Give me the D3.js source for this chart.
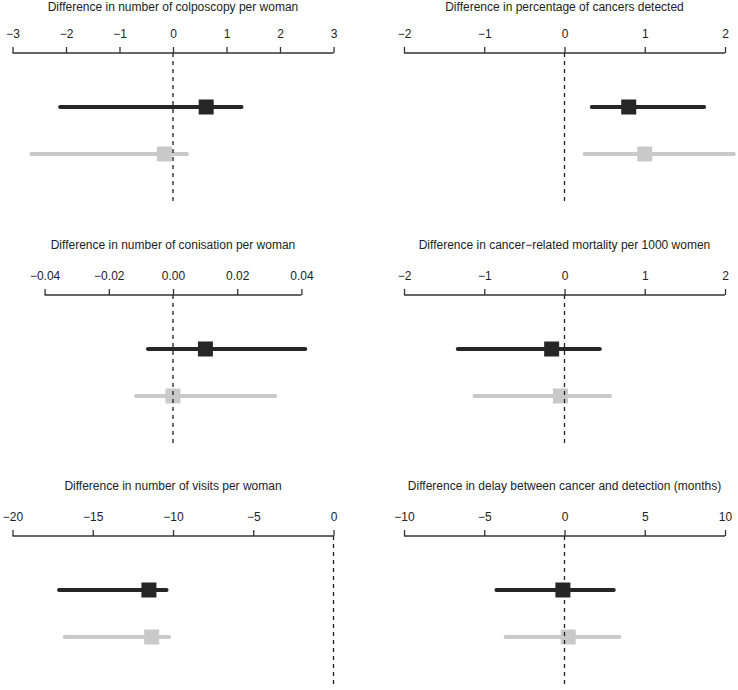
<!DOCTYPE html>
<html>
<head>
<meta charset="utf-8">
<script src="https://cdn.jsdelivr.net/npm/d3@7"></script>
<style>
  body { margin: 0; background: #fff; }
  svg { display: block; font-family: "Liberation Sans", Arial, sans-serif; }
</style>
</head>
<body>
<div id="chart"></div>
<script>
// panel titles, in reading order
const titles = [
  "Difference in number of colposcopy per woman",
  "Difference in percentage of cancers detected",
  "Difference in number of conisation per woman",
  "Difference in cancer\u2212related mortality per 1000 women",
  "Difference in number of visits per woman",
  "Difference in delay between cancer and detection (months)"
];

// x domains and tick values of each panel
const domains = [[-3, 3], [-2, 2], [-0.05, 0.05], [-2, 2], [-20, 0], [-10, 10]];
const tickVals = [
  [-3, -2, -1, 0, 1, 2, 3],
  [-2, -1, 0, 1, 2],
  [-0.04, -0.02, 0, 0.02, 0.04],
  [-2, -1, 0, 1, 2],
  [-20, -15, -10, -5, 0],
  [-10, -5, 0, 5, 10]
];
const tickFormats = ["d", "d", ".2f", "d", "d", "d"];

// black series: estimate, lower, upper
const blackEst = [0.62, 0.80, 0.0101, -0.16, -11.5, -0.1];
const blackLo  = [-2.11, 0.34, -0.0078, -1.33, -17.1, -4.24];
const blackHi  = [1.28, 1.74, 0.0412, 0.44, -10.4, 3.07];

// grey series: estimate, lower, upper
const greyEst = [-0.16, 1.00, 0.0, -0.05, -11.33, 0.23];
const greyLo  = [-2.65, 0.25, -0.0115, -1.12, -16.75, -3.67];
const greyHi  = [0.26, 2.11, 0.0319, 0.57, -10.25, 3.42];

const w = 738;
const h = 690;
const colRanges = [[12.5, 333.5], [404, 725]];
const axisY = [53, 295, 536];   // y of the axis line in each row
const sq = 15;                  // square size

const svg = d3.select("#chart")
  .append("svg")
  .attr("width", w)
  .attr("height", h);

titles.forEach((t, i) => {
  const col = i % 2;
  const row = Math.floor(i / 2);
  const ay = axisY[row];
  const x = d3.scaleLinear().domain(domains[i]).range(colRanges[col]);
  const fmt = d3.format(tickFormats[i]);
  const g = svg.append("g");

  //title (top row kept just inside the edge)
  g.append("text")
    .attr("x", (colRanges[col][0] + colRanges[col][1]) / 2)
    .attr("y", Math.max(ay - 46, 10.5))
    .attr("text-anchor", "middle")
    .style("font-size", "12px")
    .style("fill", "#222")
    .text(t);

  //axis line between first and last tick
  const tv = tickVals[i];
  g.append("line")
    .attr("x1", x(tv[0])).attr("x2", x(tv[tv.length - 1]))
    .attr("y1", ay).attr("y2", ay)
    .style("stroke", "#333").style("stroke-width", 1.3);

  //ticks and labels
  const axis = d3.axisTop(x)
    .tickValues(tv)
    .tickFormat(fmt)
    .tickSize(6)
    .tickPadding(9);
  const ag = g.append("g")
    .attr("transform", "translate(0," + ay + ")")
    .call(axis);
  ag.select(".domain").remove();
  ag.selectAll(".tick line").style("stroke", "#333").style("stroke-width", 1.3);
  ag.selectAll(".tick text")
    .style("font-size", "12px")
    .style("fill", "#222")
    .style("font-family", "'Liberation Sans', Arial, sans-serif");

  //black interval
  const by = ay + 54;
  g.append("line")
    .attr("x1", x(blackLo[i])).attr("x2", x(blackHi[i]))
    .attr("y1", by).attr("y2", by)
    .style("stroke", "#262626").style("stroke-width", 4)
    .style("stroke-linecap", "round");
  g.append("rect")
    .attr("x", x(blackEst[i]) - sq / 2).attr("y", by - sq / 2)
    .attr("width", sq).attr("height", sq)
    .style("fill", "#262626");

  //grey interval
  const gy = ay + 101;
  g.append("line")
    .attr("x1", x(greyLo[i])).attr("x2", x(greyHi[i]))
    .attr("y1", gy).attr("y2", gy)
    .style("stroke", "#c9c9c9").style("stroke-width", 4)
    .style("stroke-linecap", "round");
  g.append("rect")
    .attr("x", x(greyEst[i]) - sq / 2).attr("y", gy - sq / 2)
    .attr("width", sq).attr("height", sq)
    .style("fill", "#c9c9c9");

  //dashed zero line on top
  g.append("line")
    .attr("x1", x(0)).attr("x2", x(0))
    .attr("y1", ay).attr("y2", ay + 152)
    .style("stroke", "#222").style("stroke-width", 1.3)
    .style("stroke-dasharray", "4,4");
});
</script>
</body>
</html>
